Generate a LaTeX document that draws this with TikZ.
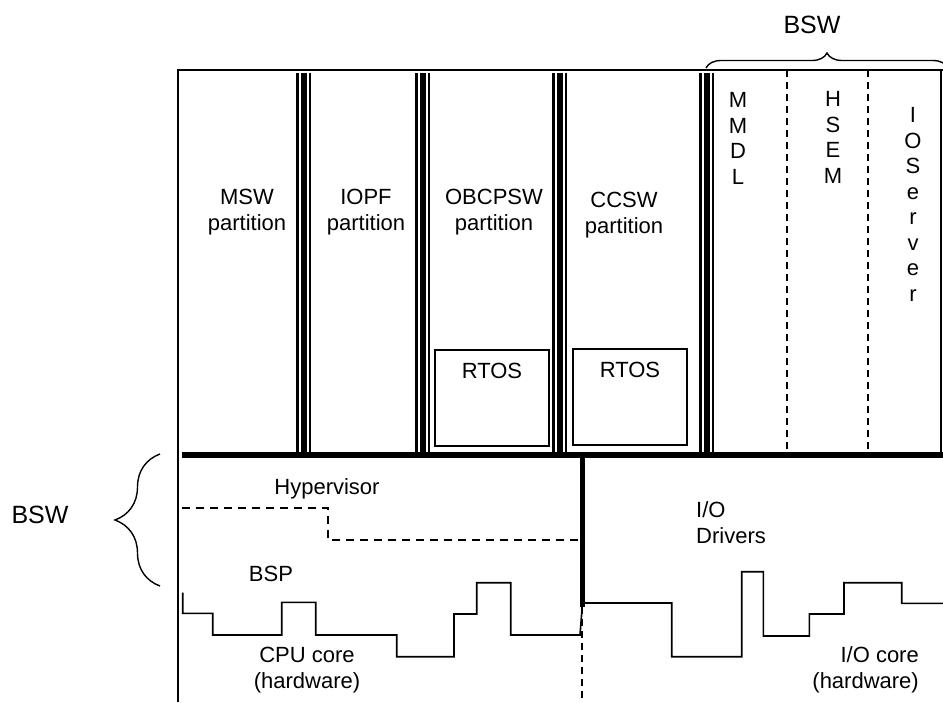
\documentclass[tikz,border=0pt]{standalone}
\usepackage{fontspec}
\setmainfont{Liberation Sans}
\usetikzlibrary{decorations.pathreplacing}
\begin{document}
\begin{tikzpicture}[x=1pt,y=-1pt,
  lbl/.style={font=\fontsize{22}{25.5}\selectfont, inner sep=0pt, align=center, anchor=base},
  biglbl/.style={font=\fontsize{25}{28}\selectfont, inner sep=0pt, anchor=base},
  frameline/.style={line width=1.6pt},
  stepline/.style={line width=1.6pt, line join=miter},
  dashline/.style={line width=1.4pt, dash pattern=on 8pt off 6pt},
  vdash/.style={line width=1.4pt, dash pattern=on 7pt off 5pt},
  rtosbox/.style={draw, line width=1.4pt},
  bracedeco/.style={line width=1.4pt, decorate, decoration={brace, amplitude=#1}},
  thinwall/.style={line width=3pt},
  thickwall/.style={line width=6.5pt},
  thinwallb/.style={line width=2.5pt}
]
\useasboundingbox (0,0) rectangle (943,702);

% outer frame
\coordinate (fbl) at (178,702);
\coordinate (ftl) at (178,70);
\coordinate (ftr) at (943,70);
\coordinate (rtop) at (941,70);
\coordinate (rbot) at (941,455);
\draw[frameline] (fbl) -- (ftl) -- (ftr);
\draw[frameline] (rtop) -- (rbot);

% triple partition walls
\foreach \xx in {296,415,552,699}{
  \draw[thinwall]  (\xx+1.5,73) -- (\xx+1.5,455);
  \draw[thickwall] (\xx+7.75,73) -- (\xx+7.75,455);
  \draw[thinwallb] (\xx+13.75,73) -- (\xx+13.75,455);
}

% dashed separators in BSW column
\coordinate (d1t) at (787,70); \coordinate (d1b) at (787,455);
\coordinate (d2t) at (868,70); \coordinate (d2b) at (868,455);
\draw[vdash] (d1t) -- (d1b);
\draw[vdash] (d2t) -- (d2b);

% RTOS boxes
\draw[rtosbox] (435,350) rectangle (549,446);
\draw[rtosbox] (573,349) rectangle (687,445);
\node[lbl] (rtos1) at (492,378) {RTOS};
\node[lbl] (rtos2) at (630,377) {RTOS};

% thick horizontal and vertical bars
\coordinate (hl) at (182,455);
\coordinate (hr) at (943,455);
\draw[line width=6pt] (hl) -- (hr);
\coordinate (vt) at (582,455);
\coordinate (vb) at (582,607);
\coordinate (vd) at (582,702);
\draw[line width=5pt] (vt) -- (vb);
\draw[vdash] (vb) -- (vd);

% partition labels (base = last line baseline)
\node[lbl] (msw) at (247,230) {MSW\\partition};
\node[lbl] (iopf) at (366,230) {IOPF\\partition};
\node[lbl] (obc) at (494,230) {OBCPSW\\partition};
\node[lbl] (ccsw) at (624,233) {CCSW\\partition};
\node[lbl] (mmdl) at (738,184) {M\\M\\D\\L};
\node[lbl] (hsem) at (833,183) {H\\S\\E\\M};
\node[lbl] (ios) at (913,301) {I\\O\\S\\e\\r\\v\\e\\r};

% hypervisor / BSP dashed boundary
\draw[dashline] (182,508) -- (328,508) -- (328,540) -- (580,540);
\node[lbl] (hyp) at (327,494) {Hypervisor};
\node[lbl] (bsp) at (271,581) {BSP};

% CPU / IO hardware step line
\draw[stepline] (182.7,592.7) -- (182.7,613.3) -- (212.7,613.3) -- (212.7,635)
  -- (281.7,635) -- (281.7,602.3) -- (315.7,602.3) -- (315.7,635)
  -- (396.7,635) -- (396.7,656.7) -- (454,656.7) -- (454,614)
  -- (476.7,614) -- (476.7,582.7) -- (510.7,582.7) -- (510.7,635)
  -- (580,635) -- (582.5,603) -- (671.7,603) -- (671.7,656.7)
  -- (741.7,656.7) -- (741.7,571.7) -- (763.3,571.7) -- (763.3,636)
  -- (809.3,636) -- (809.3,614) -- (844,614) -- (844,582.7)
  -- (901.7,582.7) -- (901.7,603.3) -- (943,603.3);

\node[lbl] (cpu) at (307,688) {CPU core\\(hardware)};
\node[lbl, align=right, anchor=base east] (ioc) at (919,688) {I/O core\\(hardware)};
\node[lbl, align=left, anchor=base west] (iod) at (696,543) {I/O\\Drivers};

% braces
\coordinate (tb1) at (706,68);
\coordinate (tb2) at (948,68);
\draw[bracedeco=15] (tb1) -- (tb2);
\node[biglbl] (bswtop) at (812,33) {BSW};
\coordinate (lb1) at (160,586);
\coordinate (lb2) at (160,454);
\draw[bracedeco=45] (lb1) -- (lb2);
\node[biglbl] (bswleft) at (40,523) {BSW};
\end{tikzpicture}
\end{document}
